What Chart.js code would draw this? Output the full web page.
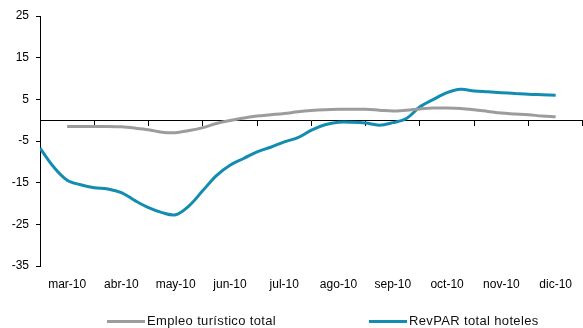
<!DOCTYPE html>
<html>
<head>
<meta charset="utf-8">
<script src="https://cdn.jsdelivr.net/npm/chart.js@4/dist/chart.umd.min.js"></script>
<style>
  html, body { margin: 0; padding: 0; background: #fff; }
  #wrap { position: relative; width: 583px; height: 328px; font-family: "Liberation Sans", Arial, sans-serif; }
  canvas { position: absolute; left: 0; top: 0; }
  .leg { position: absolute; top: 313px; height: 16px; font-size: 13px; letter-spacing: 0.35px; color: #111; white-space: nowrap; line-height: 16px; }
  .leg .sw { position: absolute; top: 7px; width: 38px; height: 3px; }
  .leg .tx { position: absolute; left: 40px; top: 0; }
</style>
</head>
<body>
<div id="wrap">
  <canvas id="c" width="583" height="328"></canvas>
  <div class="leg" id="leg0" style="left:107px"><span class="sw" style="background:#9c9c9c"></span><span class="tx" id="lt0"></span></div>
  <div class="leg" id="leg1" style="left:369px"><span class="sw" style="background:#128cb0"></span><span class="tx" id="lt1"></span></div>
</div>
<script>
// Month category labels
const months = ["mar-10","abr-10","may-10","jun-10","jul-10","ago-10","sep-10","oct-10","nov-10","dic-10"];
// Series names
const seriesNames = ["Empleo turístico total", "RevPAR total hoteles"];
// Y-axis tick values
const yTicks = [25, 15, 5, -5, -15, -25, -35];

// RevPAR: positions (in months from start of mar-10) and values
const revparX = [0,0.25,0.5,0.75,1,1.25,1.5,1.75,2,2.25,2.5,2.75,3,3.25,3.5,3.75,4,4.25,4.5,4.75,5,5.25,5.5,5.75,6,6.25,6.5,6.75,7,7.25,7.5,7.75,8,8.25,8.5,8.75,9,9.25,9.5];
const revparY = [-6.7,-11.2,-14.4,-15.5,-16.2,-16.5,-17.4,-19.3,-21.0,-22.2,-22.7,-20.5,-16.9,-13.3,-10.8,-9.2,-7.6,-6.5,-5.2,-4.2,-2.4,-1.1,-0.5,-0.5,-0.7,-1.2,-0.6,0.4,3.2,5.0,6.6,7.4,7.0,6.8,6.6,6.4,6.2,6.1,6.0];

// Empleo turístico: positions and values
const empleoX = [0.5,0.75,1,1.25,1.5,1.75,2,2.25,2.5,2.75,3,3.25,3.5,3.75,4,4.25,4.5,4.75,5,5.25,5.5,5.75,6,6.25,6.5,6.75,7,7.25,7.5,7.75,8,8.25,8.5,8.75,9,9.25,9.5];
const empleoY = [-1.5,-1.5,-1.5,-1.5,-1.6,-1.9,-2.3,-2.9,-3.0,-2.5,-1.8,-0.8,-0.1,0.5,1.0,1.3,1.6,2.0,2.3,2.5,2.6,2.6,2.6,2.4,2.2,2.4,2.7,2.9,2.9,2.8,2.5,2.1,1.7,1.5,1.3,1.0,0.8];

document.getElementById('lt0').textContent = seriesNames[0];
document.getElementById('lt1').textContent = seriesNames[1];

const toPts = (xs, ys) => xs.map((x, i) => ({ x: x, y: ys[i] }));
const FONT = { family: '"Liberation Sans", Arial, sans-serif', size: 12 };

new Chart(document.getElementById('c'), {
  type: 'line',
  data: {
    datasets: [
      { label: seriesNames[0], data: toPts(empleoX, empleoY), borderColor: '#9c9c9c', backgroundColor: '#9c9c9c', borderWidth: 3, pointRadius: 0, tension: 0.35, xAxisID: 'x', yAxisID: 'y' },
      { label: seriesNames[1], data: toPts(revparX, revparY), borderColor: '#128cb0', backgroundColor: '#128cb0', borderWidth: 3, pointRadius: 0, tension: 0.35, xAxisID: 'x', yAxisID: 'y' }
    ]
  },
  options: {
    responsive: false,
    animation: false,
    events: [],
    layout: { padding: { top: 16, right: 0, bottom: 32, left: 0 } },
    plugins: { legend: { display: false }, tooltip: { enabled: false } },
    scales: {
      x: {
        type: 'linear', min: 0, max: 10, position: { y: 0 },
        ticks: { display: false, stepSize: 1 },
        afterBuildTicks: s => { s.ticks = months.map((m, i) => ({ value: i })).concat([{ value: months.length }]); },
        grid: { display: true, drawOnChartArea: false, drawTicks: true, tickLength: 5, color: '#000', lineWidth: 1 },
        border: { display: true, color: '#000', width: 1 }
      },
      x2: {
        type: 'linear', min: 0, max: 10, position: 'bottom',
        afterBuildTicks: s => { s.ticks = months.map((m, i) => ({ value: i + 0.5 })); },
        afterFit: s => { s.height = 30; },
        ticks: { autoSkip: false, maxRotation: 0, padding: 11, color: '#000', font: FONT, callback: v => months[Math.floor(v)] },
        grid: { display: false, drawTicks: false },
        border: { display: false }
      },
      y: {
        type: 'linear', min: -35, max: 25, position: 'left',
        afterBuildTicks: s => { s.ticks = yTicks.map(v => ({ value: v })); },
        afterFit: s => { s.width = 40; },
        ticks: { padding: 7, color: '#000', font: FONT },
        grid: { drawOnChartArea: false, drawTicks: true, tickLength: 4, color: '#000' },
        border: { display: true, color: '#000', width: 1 }
      }
    }
  }
});
</script>
</body>
</html>
